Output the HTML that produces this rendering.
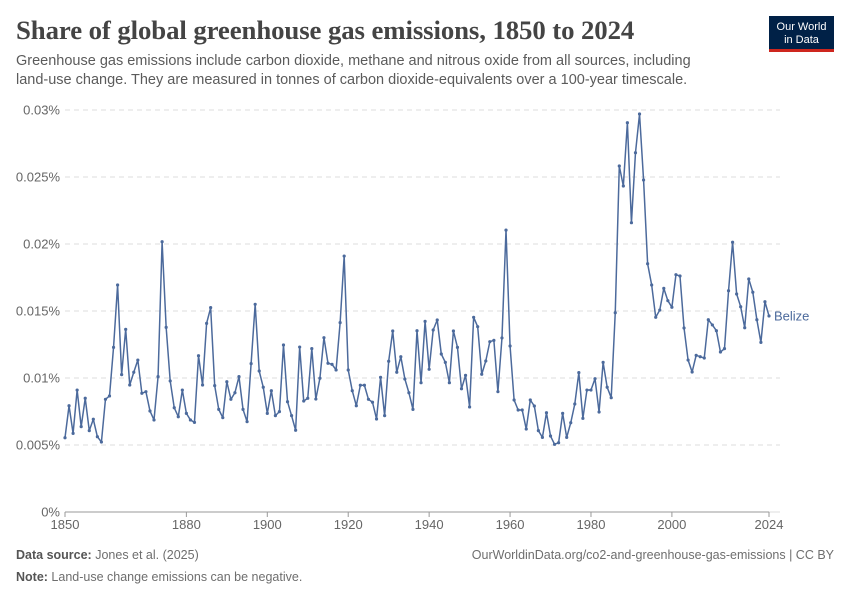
<!DOCTYPE html>
<html><head><meta charset="utf-8">
<style>
body{margin:0;background:#fff;font-family:"Liberation Sans",sans-serif;}
#wrap{position:relative;width:850px;height:600px;overflow:hidden;}
.title{position:absolute;left:16px;top:15px;font-family:"Liberation Serif",serif;font-size:26.8px;font-weight:bold;color:#444;letter-spacing:-0.1px;}
.sub{position:absolute;left:16px;top:52px;font-size:14.5px;color:#5b5b5b;line-height:19px;width:705px;}
.logo{position:absolute;left:769px;top:16px;width:65px;height:36px;background:#002147;color:#fff;font-size:11px;text-align:center;line-height:13px;padding-top:5px;box-sizing:border-box;border-bottom:3px solid #ce261e;}
.foot{position:absolute;font-size:12.5px;color:#6e6e6e;}
.foot b{color:#555;}
</style></head><body>
<div id="wrap">
<div class="title">Share of global greenhouse gas emissions, 1850 to 2024</div>
<div class="sub">Greenhouse gas emissions include carbon dioxide, methane and nitrous oxide from all sources, including land-use change. They are measured in tonnes of carbon dioxide-equivalents over a 100-year timescale.</div>
<div class="logo">Our World<br>in Data</div>
<svg id="chart" width="850" height="600" style="position:absolute;left:0;top:0"></svg>
<div class="foot" style="left:16px;top:548px"><b>Data source:</b> Jones et al. (2025)</div>
<div class="foot" style="right:16px;top:548px">OurWorldinData.org/co2-and-greenhouse-gas-emissions | CC BY</div>
<div class="foot" style="left:16px;top:570px"><b>Note:</b> Land-use change emissions can be negative.</div>
</div>
<script>
const startYear = 1850;
const values = [5.54,7.93,5.87,9.10,6.37,8.49,6.07,6.92,5.62,5.22,
8.41,8.66,12.29,16.94,10.25,13.63,9.48,10.43,11.34,8.86,
8.98,7.54,6.87,10.10,20.17,13.78,9.78,7.78,7.11,9.10,
7.36,6.87,6.69,11.66,9.48,14.08,15.25,9.43,7.66,7.04,
9.72,8.41,8.90,10.10,7.66,6.74,11.07,15.50,10.52,9.31,
7.36,9.05,7.19,7.49,12.46,8.23,7.19,6.10,12.31,8.28,
8.49,12.19,8.43,9.98,13.01,11.10,11.02,10.60,14.13,19.10,
10.60,9.05,7.93,9.46,9.46,8.41,8.19,6.94,10.05,7.19,
11.25,13.51,10.43,11.59,9.93,8.90,7.66,13.53,9.65,14.23,
10.65,13.58,14.33,11.79,11.17,9.65,13.51,12.29,9.20,10.20,
7.84,14.53,13.83,10.28,11.27,12.71,12.81,8.98,12.99,21.04,
12.39,8.36,7.61,7.61,6.19,8.36,7.91,6.07,5.57,7.41,
5.67,5.05,5.17,7.36,5.57,6.66,8.06,10.40,6.99,9.10,
9.10,9.95,7.46,11.17,9.31,8.53,14.87,25.82,24.33,29.05,
21.59,26.81,29.70,24.78,18.53,16.94,14.53,15.07,16.69,15.77,
15.28,17.71,17.61,13.73,11.34,10.45,11.69,11.59,11.49,14.35,
13.96,13.53,11.94,12.19,16.51,20.13,16.27,15.32,13.75,17.39,
16.40,14.35,12.66,15.69,14.63]; // thousandths of a percent
const yTicks = [0,5,10,15,20,25,30];
const yTickLabels = ["0%","0.005%","0.01%","0.015%","0.02%","0.025%","0.03%"];
const xTicks = [1850,1880,1900,1920,1940,1960,1980,2000,2024];

const NS="http://www.w3.org/2000/svg";
const svg=document.getElementById('chart');
const x0=65,x1=769,yBase=512,yTop=110;
const xs=y=>x0+(y-startYear)/(2024-1850)*(x1-x0);
const ys=v=>yBase-v/30*(yBase-yTop);
function mk(t,a){const e=document.createElementNS(NS,t);for(const k in a)e.setAttribute(k,a[k]);svg.appendChild(e);return e;}
yTicks.forEach((t,i)=>{
  const g=mk('line',{x1:x0,x2:780,y1:ys(t),y2:ys(t),stroke:'#ddd','stroke-dasharray':t===0?'none':'5,4'});
  
  
  const l=mk('text',{x:60,y:ys(t)+4.5,'text-anchor':'end','font-size':13,fill:'#666','font-family':'Liberation Sans, sans-serif'});
  l.textContent=yTickLabels[i];
  
  
});
const ax=mk('line',{x1:x0,x2:x1,y1:yBase,y2:yBase,stroke:'#999'});


xTicks.forEach(t=>{
  const tk=mk('line',{x1:xs(t),x2:xs(t),y1:yBase,y2:yBase+5,stroke:'#999'});
  
  
  const l=mk('text',{x:xs(t),y:529,'text-anchor':'middle','font-size':13,fill:'#666','font-family':'Liberation Sans, sans-serif'});
  l.textContent=t;
  
  
});
const pts=values.map((v,i)=>xs(startYear+i).toFixed(2)+','+ys(v).toFixed(2)).join(' ');
const line=mk('polyline',{points:pts,fill:'none',stroke:'#4c6a9c','stroke-width':1.5,'stroke-linejoin':'round'});


values.forEach((v,i)=>{
  const c=mk('circle',{cx:xs(startYear+i),cy:ys(v),r:1.6,fill:'#4c6a9c'});
  
  
});
const lab=mk('text',{x:774,y:ys(values[values.length-1])+4.5,'font-size':13,fill:'#4c6a9c','font-family':'Liberation Sans, sans-serif'});
lab.textContent='Belize';


</script>
</body></html>
